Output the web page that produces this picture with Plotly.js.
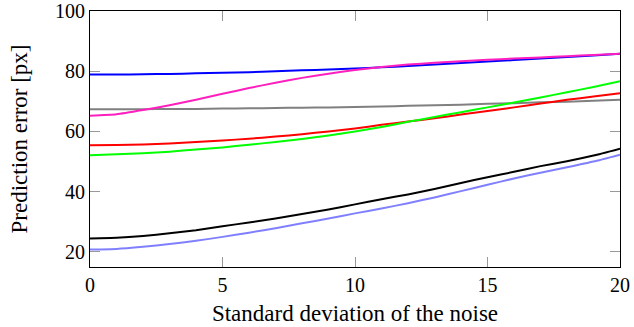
<!DOCTYPE html>
<html>
<head>
<meta charset="utf-8">
<script src="https://cdn.plot.ly/plotly-3.0.1.min.js"></script>
<style>html,body{margin:0;padding:0;background:#fff;}#chart{width:634px;height:327px;}</style>
</head>
<body>
<div id="chart"></div>
<script>
const noiseStd = [0,1,2,3,4,5,6,7,8,9,10,11,12,13,14,15,16,17,18,19,20];

const seriesBlue    = [78.9,78.9,79.0,79.1,79.3,79.5,79.7,80.0,80.3,80.6,80.9,81.3,81.7,82.2,82.7,83.2,83.7,84.2,84.7,85.2,85.8];
const seriesMagenta = [65.2,65.7,67.1,68.7,70.5,72.5,74.4,76.2,77.8,79.2,80.4,81.4,82.2,82.8,83.3,83.8,84.2,84.6,85.0,85.4,85.8];
const seriesGray    = [67.4,67.4,67.4,67.5,67.5,67.6,67.7,67.8,67.9,68.0,68.1,68.3,68.5,68.7,68.9,69.2,69.4,69.7,69.9,70.2,70.5];
const seriesRed     = [55.4,55.5,55.7,56.0,56.5,57.0,57.6,58.3,59.1,60.0,61.0,62.2,63.3,64.4,65.6,66.8,68.0,69.3,70.5,71.6,72.7];
const seriesGreen   = [52.1,52.4,52.8,53.3,54.0,54.7,55.6,56.5,57.5,58.7,60.0,61.5,63.2,64.8,66.4,68.0,69.6,71.3,73.0,74.8,76.7];
const seriesBlack   = [24.5,24.7,25.3,26.2,27.2,28.5,29.8,31.1,32.6,34.1,35.8,37.5,39.1,40.9,42.9,44.8,46.6,48.5,50.1,52.0,54.3];
const seriesLightBlue = [20.8,21.0,21.7,22.6,23.7,25.0,26.4,27.9,29.5,31.1,32.8,34.4,36.2,38.1,40.2,42.3,44.4,46.3,48.1,50.0,52.3];

const xTicks = [0,5,10,15,20];
const yTicks = [20,40,60,80,100];

const series = [
  {y: seriesGray, color: '#808080'},
  {y: seriesBlue, color: '#0000ff'},
  {y: seriesMagenta, color: '#ff1fbf'},
  {y: seriesRed, color: '#ff0000'},
  {y: seriesGreen, color: '#00ff00'},
  {y: seriesLightBlue, color: '#8080ff'},
  {y: seriesBlack, color: '#000000'}
];

const traces = series.map(s => ({
  x: noiseStd, y: s.y, type: 'scatter', mode: 'lines',
  line: {color: s.color, width: 2, shape: 'spline', smoothing: 0.5},
  showlegend: false, hoverinfo: 'skip'
}));

const tickFont = {family: '"Liberation Serif", "DejaVu Serif", serif', size: 20, color: '#000'};
const titleFont = {family: '"Liberation Serif", "DejaVu Serif", serif', size: 23, color: '#000'};

const layout = {
  width: 634, height: 327,
  margin: {l: 90, r: 14, t: 11, b: 60},
  paper_bgcolor: '#fff', plot_bgcolor: '#fff',
  font: tickFont,
  xaxis: {
    range: [0, 20], tickvals: xTicks, ticktext: xTicks.map(String),
    ticks: 'inside', ticklen: 10, tickcolor: '#999', tickwidth: 1,
    showline: true, linecolor: '#000', linewidth: 1, mirror: 'ticks',
    showgrid: false, zeroline: false,
    title: {text: 'Standard deviation of the noise', font: titleFont, standoff: 9},
    tickfont: tickFont
  },
  yaxis: {
    range: [15, 100], tickvals: yTicks, ticktext: yTicks.map(String),
    ticks: 'inside', ticklen: 10, tickcolor: '#999', tickwidth: 1,
    showline: true, linecolor: '#000', linewidth: 1, mirror: 'ticks',
    showgrid: false, zeroline: false,
    title: {text: 'Prediction error [px]', font: titleFont, standoff: 20},
    tickfont: tickFont
  }
};

Plotly.newPlot('chart', traces, layout, {staticPlot: true, displayModeBar: false});
</script>
</body>
</html>
